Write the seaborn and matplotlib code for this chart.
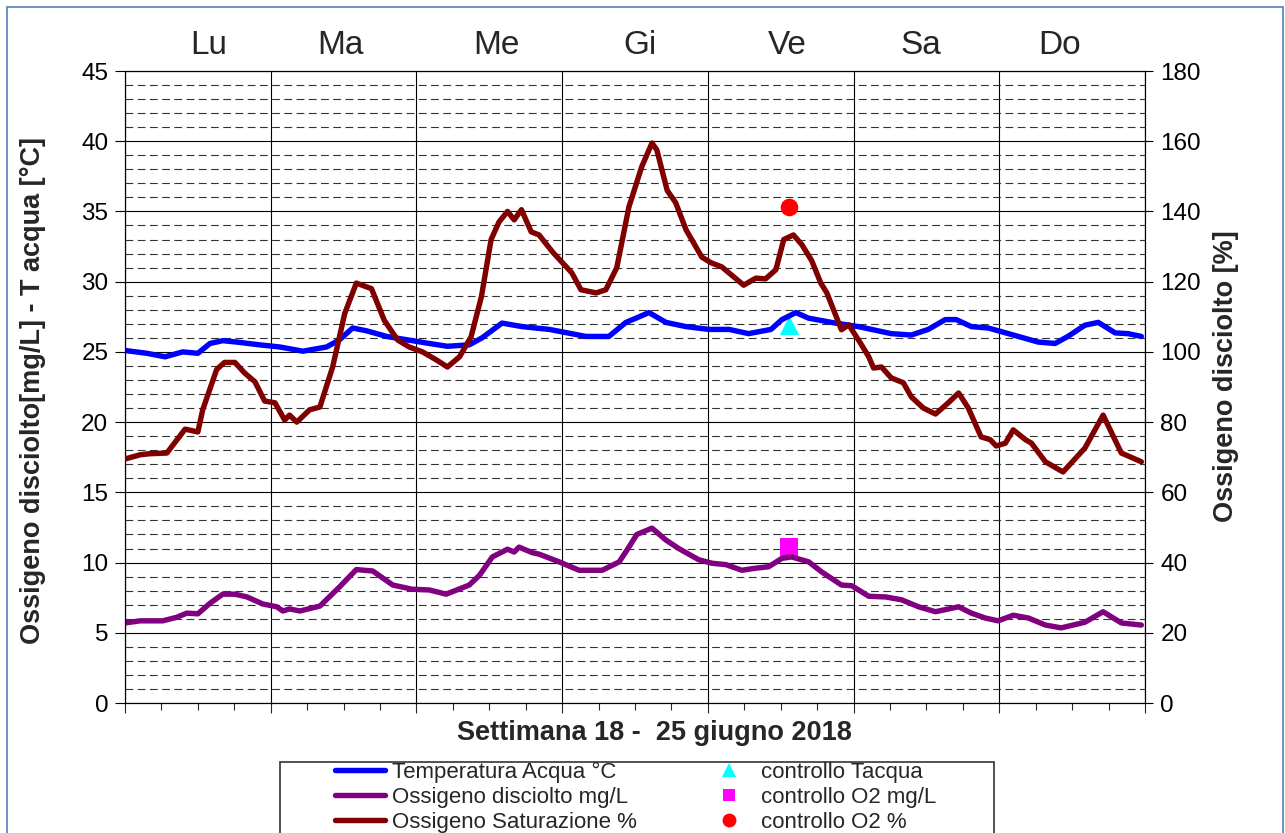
import seaborn as sns
import matplotlib.pyplot as plt
import numpy as np
from matplotlib.lines import Line2D
from matplotlib.patches import Rectangle

# giorni della settimana (etichette in alto)
giorni = ["Lu", "Ma", "Me", "Gi", "Ve", "Sa", "Do"]
giorni_ore = [13.8, 35.5, 61.1, 84.8, 109.1, 131.0, 154.0]

# temperatura acqua: ore dall'inizio settimana, °C
ore_temp = [0, 3.6, 6.6, 9.5, 12.0, 14.0, 16.1, 18.4, 22.2, 25.5, 29.3, 33.2, 35.3,
            37.5, 39.8, 43.1, 47.3, 50.1, 53.1, 56.7, 58.8, 62.1, 65.4, 69.9, 75.9,
            79.7, 82.5, 84.7, 86.3, 89.1, 92.4, 96.2, 99.5, 102.7, 106.4, 108.2,
            110.5, 112.6, 117.0, 120.8, 126.2, 129.5, 132.3, 135.1, 136.9, 139.4,
            142.2, 145.5, 150.4, 153.2, 155.3, 158.1, 160.3, 163.1, 165.2, 167.4]
temp = [25.1, 24.9, 24.65, 25.0, 24.9, 25.6, 25.8, 25.7, 25.5, 25.35, 25.05, 25.35, 25.85,
        26.7, 26.5, 26.1, 25.8, 25.6, 25.4, 25.5, 26.0, 27.05, 26.8, 26.6, 26.1,
        26.1, 27.1, 27.5, 27.8, 27.1, 26.8, 26.6, 26.6, 26.3, 26.6, 27.3,
        27.8, 27.4, 27.05, 26.8, 26.3, 26.2, 26.6, 27.3, 27.3, 26.8,
        26.7, 26.3, 25.7, 25.6, 26.1, 26.9, 27.1, 26.35, 26.3, 26.1]

# ossigeno disciolto mg/L
ore_o2 = [0, 2.5, 6.2, 8.5, 10.2, 12.0, 14.0, 16.1, 18.1, 20.1, 22.7, 25.0, 26.0, 27.1,
          28.8, 31.6, 32.1, 35.3, 38.1, 40.8, 44.1, 45.7, 47.3, 50.1, 52.9, 56.7, 58.4,
          60.5, 63.0, 64.1, 64.9, 67.1, 68.2, 71.5, 74.8, 78.6, 81.4, 83.0, 84.3, 86.8,
          89.1, 91.2, 94.5, 96.7, 99.0, 101.6, 103.9, 106.0, 108.2, 109.8, 112.6, 114.7,
          118.0, 119.7, 122.5, 125.3, 127.9, 130.7, 133.5, 137.3, 139.4, 141.7, 143.8,
          146.3, 148.8, 151.6, 154.2, 158.1, 161.1, 164.1, 167.4]
o2 = [5.7, 5.85, 5.85, 6.1, 6.4, 6.35, 7.1, 7.75, 7.75, 7.55, 7.05, 6.85, 6.55, 6.7,
      6.55, 6.85, 6.9, 8.25, 9.5, 9.4, 8.4, 8.25, 8.1, 8.05, 7.75, 8.4, 9.1,
      10.4, 10.95, 10.75, 11.1, 10.7, 10.6, 10.05, 9.45, 9.45, 10.05, 11.1, 12.0, 12.45,
      11.6, 11.0, 10.2, 9.95, 9.85, 9.45, 9.6, 9.7, 10.3, 10.4, 10.05, 9.35,
      8.4, 8.35, 7.6, 7.55, 7.35, 6.85, 6.5, 6.85, 6.4, 6.05, 5.85,
      6.25, 6.05, 5.55, 5.35, 5.75, 6.5, 5.7, 5.55]

# ossigeno saturazione %
ore_sat = [0, 2.5, 4.1, 6.9, 9.9, 12.0, 12.8, 15.1, 16.4, 18.1, 19.7, 21.4, 23.0, 24.7,
           26.3, 27.1, 28.3, 30.4, 32.1, 34.2, 36.2, 38.1, 40.6, 42.7, 44.9, 46.8, 49.0,
           51.3, 53.1, 55.1, 57.0, 58.7, 60.3, 61.6, 63.0, 64.1, 65.3, 66.9, 68.2, 70.4,
           73.6, 75.1, 77.6, 79.2, 81.0, 83.0, 85.1, 86.8, 87.6, 89.3, 90.7, 92.4, 95.0,
           96.5, 98.3, 101.9, 103.9, 105.5, 107.2, 108.5, 110.1, 111.5, 113.1, 114.6,
           115.6, 118.0, 119.2, 121.1, 122.5, 123.3, 124.6, 126.2, 128.2, 129.5, 131.5,
           133.5, 135.6, 137.3, 138.9, 141.0, 142.5, 143.5, 145.0, 146.3, 148.3, 149.3,
           151.6, 154.5, 158.1, 161.1, 164.1, 167.4]
sat = [69.5, 70.7, 71, 71.2, 78, 77.2, 83.5, 95, 97, 97, 94, 91.5, 86, 85.5,
       80.6, 82, 80, 83.5, 84.3, 95.7, 111, 119.6, 118, 109, 103.4, 101.4, 100,
       97.7, 95.7, 98.6, 104.3, 115.7, 132, 137, 140, 137.6, 140.5, 134.2, 133.3, 128.5,
       122.5, 117.7, 116.8, 117.7, 124, 141.3, 152.7, 159.5, 157.5, 146, 142.5, 134.8, 127,
       125.4, 124.2, 119, 121, 120.8, 123.4, 132, 133.3, 130.5, 126, 119.6,
       116.8, 106.3, 107.7, 102.6, 98.6, 95.4, 95.7, 92.6, 91.2, 87.2, 84,
       82.3, 85.5, 88.3, 84, 75.8, 75, 73.2, 74, 77.8, 75, 74,
       68.7, 65.8, 72.6, 82, 71.2, 68.7]

# controlli manuali
ora_controllo = [109.3]
ctrl_temp = [26.9]
ctrl_o2 = [11.1]
ctrl_sat = [141.3]

sns.set_style("white")
plt.rcParams['font.family'] = ['Liberation Sans', 'DejaVu Sans']

W, H = 1285, 833
fig = plt.figure(figsize=(W / 100, H / 100), dpi=100)
ax = fig.add_axes([125 / W, 1 - 703 / H, 1020 / W, 632 / H])

blu = "#0000ff"
viola = "#800080"
rosso = "#800000"
spessore = 3.9

# punti di controllo (sotto le linee)
sns.scatterplot(x=ora_controllo, y=ctrl_temp, ax=ax, marker="^", s=190, color="cyan",
                linewidth=0, zorder=2)
sns.scatterplot(x=ora_controllo, y=ctrl_o2, ax=ax, marker="s", s=150, color="magenta",
                linewidth=0, zorder=2)
sns.lineplot(x=ore_temp, y=temp, ax=ax, color=blu, lw=spessore, zorder=3)
sns.lineplot(x=ore_o2, y=o2, ax=ax, color=viola, lw=spessore, zorder=3)

ax.set_xlim(0, 168)
ax.set_ylim(0, 45)
ax.set_axisbelow(True)
ax.set_xticks(np.arange(0, 169, 24))
ax.set_xticks(np.arange(0, 169, 6), minor=True)
ax.set_xticklabels([])
ax.set_yticks(np.arange(0, 46, 5))
ax.set_yticks(np.arange(0, 46, 1), minor=True)
ax.tick_params(axis="x", which="major", bottom=True, direction="out", length=7.5, width=0.8)
ax.tick_params(axis="x", which="minor", bottom=True, direction="out", length=5, width=0.8)
ax.tick_params(axis="y", which="major", left=True, direction="out", length=7, width=0.8,
               pad=5, labelsize=17.5, colors="black")
ax.tick_params(axis="y", which="minor", length=0)
ax.grid(True, which="major", color="black", lw=0.8)
ax.grid(True, which="minor", axis="y", color="#333333", lw=0.8, ls=(0, (7, 4)))
for sp in ax.spines.values():
    sp.set_color("black")
    sp.set_linewidth(0.8)
ax.set_xlabel("")
ax.set_ylabel("")

# asse destro: saturazione
ax2 = ax.twinx()
sns.lineplot(x=ore_sat, y=sat, ax=ax2, color=rosso, lw=spessore, zorder=3)
sns.scatterplot(x=ora_controllo, y=ctrl_sat, ax=ax2, marker="o", s=160, color="red",
                linewidth=0, zorder=2)
ax2.set_ylim(0, 180)
ax2.set_xlim(0, 168)
ax2.set_yticks(np.arange(0, 181, 20))
ax2.tick_params(axis="y", right=True, direction="out", length=6, width=0.8, pad=5,
                labelsize=17.5, colors="black")
ax2.set_ylabel("")
for sp in ax2.spines.values():
    sp.set_color("black")
    sp.set_linewidth(0.8)

# giorni in alto
for g, h in zip(giorni, giorni_ore):
    ax.text(h, 1.041, g, transform=ax.get_xaxis_transform(), ha="center", va="center",
            fontsize=24)

fig.text(33 / W, 1 - 391 / H, "Ossigeno disciolto[mg/L] - T acqua [°C]", rotation=90,
         ha="center", va="center", fontsize=19.5, fontweight="bold")
fig.text(1226 / W, 1 - 376 / H, "Ossigeno disciolto [%]", rotation=90,
         ha="center", va="center", fontsize=19.5, fontweight="bold")
fig.text(654 / W, 1 - 733 / H, "Settimana 18 -  25 giugno 2018",
         ha="center", va="center", fontsize=19.5, fontweight="bold")

# legenda
maniglie = [
    Line2D([], [], color=blu, lw=spessore),
    Line2D([], [], color=viola, lw=spessore),
    Line2D([], [], color=rosso, lw=spessore),
    Line2D([], [], color="cyan", marker="^", ls="None", markersize=10, markeredgewidth=0),
    Line2D([], [], color="magenta", marker="s", ls="None", markersize=9, markeredgewidth=0),
    Line2D([], [], color="red", marker="o", ls="None", markersize=10, markeredgewidth=0),
]
etichette = ["Temperatura Acqua °C", "Ossigeno disciolto mg/L", "Ossigeno Saturazione %",
             "controllo Tacqua", "controllo O2 mg/L", "controllo O2 %"]
fig.legend(maniglie, etichette, loc="upper left", bbox_to_anchor=(335 / W, 1 - 762 / H),
           ncol=2, frameon=False, fontsize=16, handlelength=2.25, handletextpad=0.33,
           columnspacing=3.0, labelspacing=0.17, borderpad=0, borderaxespad=0)
fig.add_artist(Rectangle((280 / W, -0.05), 714 / W, 0.05 + 1 - 762 / H,
                         transform=fig.transFigure, fill=False, ec="#333333", lw=1.2))

# cornice esterna
fig.add_artist(Rectangle((7 / W, -0.05), 1276 / W, 0.05 + 1 - 7 / H,
                         transform=fig.transFigure, fill=False, ec="#4f81bd", lw=1.2))

fig.savefig("out.png", dpi=100)
